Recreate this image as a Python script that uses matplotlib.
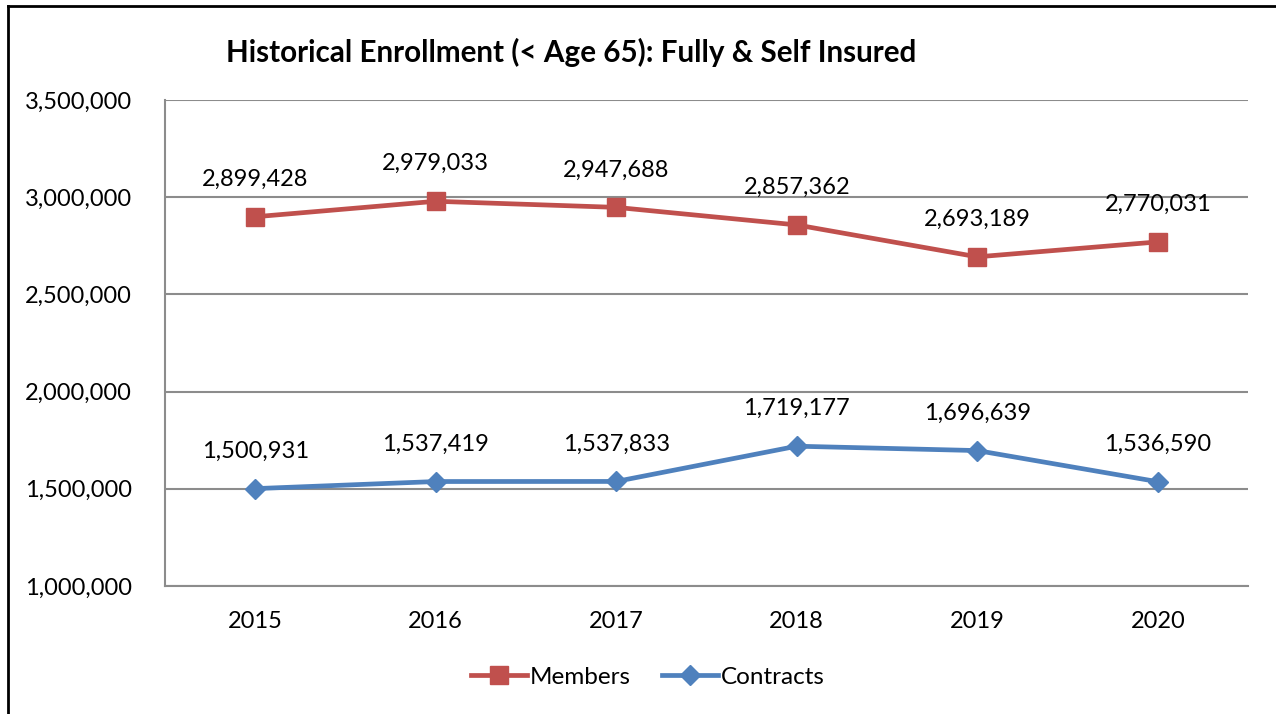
import matplotlib
matplotlib.use("Agg")
import matplotlib.pyplot as plt
from matplotlib.lines import Line2D
from matplotlib.ticker import FuncFormatter

years = ["2015", "2016", "2017", "2018", "2019", "2020"]
members = [2899428, 2979033, 2947688, 2857362, 2693189, 2770031]
contracts = [1500931, 1537419, 1537833, 1719177, 1696639, 1536590]
yticks = [1000000, 1500000, 2000000, 2500000, 3000000, 3500000]

plt.rcParams['font.family'] = ['Lato', 'DejaVu Sans']

W, H = 1276, 714
fig = plt.figure(figsize=(W / 100, H / 100), dpi=100)
ax = fig.add_axes([165 / W, 1 - 586 / H, (1248 - 165) / W, (586 - 100) / H])

x = list(range(len(years)))
red = "#C0504D"
blue = "#4F81BD"
ax.plot(x, members, color=red, lw=3.4, marker="s", ms=13, label="Members", zorder=3)
ax.plot(x, contracts, color=blue, lw=3.4, marker="D", ms=10, label="Contracts", zorder=3)

for xi, v in zip(x, members):
    ax.annotate(f"{v:,}", (xi, v), xytext=(0, 27), textcoords="offset points",
                ha="center", va="center", fontsize=17)
for xi, v in zip(x, contracts):
    ax.annotate(f"{v:,}", (xi, v), xytext=(0, 27), textcoords="offset points",
                ha="center", va="center", fontsize=17)

ax.set_xlim(-0.5, len(years) - 0.5)
ax.set_ylim(1000000, 3500000)
ax.set_yticks(yticks)
ax.yaxis.set_major_formatter(FuncFormatter(lambda v, p: f"{int(v):,}"))
ax.set_xticks(x)
ax.set_xticklabels(years)
ax.tick_params(axis="both", length=0, labelsize=17)
ax.tick_params(axis="y", pad=24)
ax.tick_params(axis="x", pad=18)
ax.grid(axis="y", color="#8c8c8c", lw=1.5)
ax.set_axisbelow(True)
for s in ["top", "right"]:
    ax.spines[s].set_visible(False)
for s in ["left", "bottom"]:
    ax.spines[s].set_color("#8c8c8c")
    ax.spines[s].set_linewidth(1.5)

fig.text(226 / W, 1 - 52 / H, "Historical Enrollment (< Age 65): Fully & Self Insured",
         fontsize=21.3, fontweight="bold", ha="left", va="center")

handles = [Line2D([], [], color=red, lw=3.4, marker="s", ms=13),
           Line2D([], [], color=blue, lw=3.4, marker="D", ms=10)]
fig.legend(handles, ["Members", "Contracts"], loc="center", bbox_to_anchor=(648 / W, 1 - 677 / H),
           ncol=2, frameon=False, fontsize=17.5, handlelength=2.3, handletextpad=0.1, columnspacing=1.3)

# outer chart frame (left and top edges visible)
fig.add_artist(Line2D([8 / W, 8 / W], [0, 1 - 6 / H], color="black", lw=2, transform=fig.transFigure))
fig.add_artist(Line2D([8 / W, 1], [1 - 6 / H, 1 - 6 / H], color="black", lw=2, transform=fig.transFigure))

fig.savefig("out.png", dpi=100)
